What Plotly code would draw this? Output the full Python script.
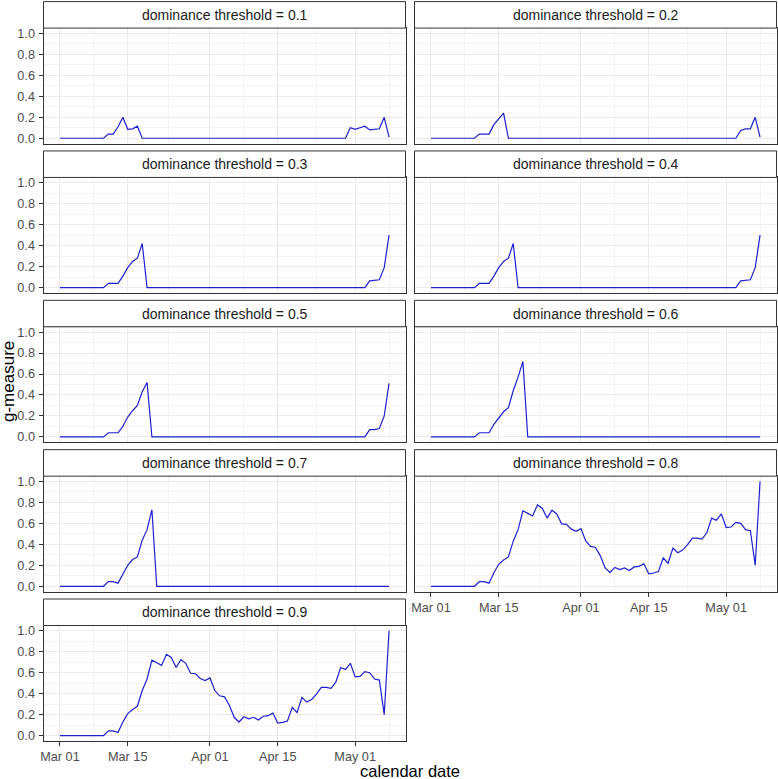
import plotly.graph_objects as go
import pandas as pd

# ---------------- data ----------------
dates = pd.date_range("2020-03-01", "2020-05-08", freq="D")

thresholds = ["0.1", "0.2", "0.3", "0.4", "0.5", "0.6", "0.7", "0.8", "0.9"]

g_01 = [0, 0, 0, 0, 0, 0, 0, 0, 0, 0,
        0.04, 0.04, 0.11, 0.20, 0.085, 0.09, 0.115, 0, 0, 0,
        0, 0, 0, 0, 0, 0, 0, 0, 0, 0,
        0, 0, 0, 0, 0, 0, 0, 0, 0, 0,
        0, 0, 0, 0, 0, 0, 0, 0, 0, 0,
        0, 0, 0, 0, 0, 0, 0, 0, 0, 0,
        0.10, 0.085, 0.10, 0.115, 0.08, 0.085, 0.09, 0.20, 0.01]

g_02 = [0, 0, 0, 0, 0, 0, 0, 0, 0, 0,
        0.04, 0.04, 0.04, 0.13, 0.185, 0.24, 0, 0, 0, 0,
        0, 0, 0, 0, 0, 0, 0, 0, 0, 0,
        0, 0, 0, 0, 0, 0, 0, 0, 0, 0,
        0, 0, 0, 0, 0, 0, 0, 0, 0, 0,
        0, 0, 0, 0, 0, 0, 0, 0, 0, 0,
        0, 0, 0, 0, 0.075, 0.09, 0.09, 0.20, 0.01]

g_03 = [0, 0, 0, 0, 0, 0, 0, 0, 0, 0,
        0.04, 0.04, 0.04, 0.11, 0.19, 0.25, 0.28, 0.42, 0, 0,
        0, 0, 0, 0, 0, 0, 0, 0, 0, 0,
        0, 0, 0, 0, 0, 0, 0, 0, 0, 0,
        0, 0, 0, 0, 0, 0, 0, 0, 0, 0,
        0, 0, 0, 0, 0, 0, 0, 0, 0, 0,
        0, 0, 0, 0, 0.065, 0.07, 0.075, 0.19, 0.50]

g_04 = [0, 0, 0, 0, 0, 0, 0, 0, 0, 0,
        0.04, 0.04, 0.04, 0.11, 0.19, 0.25, 0.28, 0.42, 0, 0,
        0, 0, 0, 0, 0, 0, 0, 0, 0, 0,
        0, 0, 0, 0, 0, 0, 0, 0, 0, 0,
        0, 0, 0, 0, 0, 0, 0, 0, 0, 0,
        0, 0, 0, 0, 0, 0, 0, 0, 0, 0,
        0, 0, 0, 0, 0.065, 0.07, 0.075, 0.19, 0.50]

g_05 = [0, 0, 0, 0, 0, 0, 0, 0, 0, 0,
        0.04, 0.04, 0.04, 0.10, 0.19, 0.25, 0.30, 0.43, 0.52, 0,
        0, 0, 0, 0, 0, 0, 0, 0, 0, 0,
        0, 0, 0, 0, 0, 0, 0, 0, 0, 0,
        0, 0, 0, 0, 0, 0, 0, 0, 0, 0,
        0, 0, 0, 0, 0, 0, 0, 0, 0, 0,
        0, 0, 0, 0, 0.07, 0.07, 0.08, 0.20, 0.51]

g_06 = [0, 0, 0, 0, 0, 0, 0, 0, 0, 0,
        0.04, 0.04, 0.04, 0.12, 0.18, 0.24, 0.28, 0.44, 0.57, 0.72,
        0, 0, 0, 0, 0, 0, 0, 0, 0, 0,
        0, 0, 0, 0, 0, 0, 0, 0, 0, 0,
        0, 0, 0, 0, 0, 0, 0, 0, 0, 0,
        0, 0, 0, 0, 0, 0, 0, 0, 0, 0,
        0, 0, 0, 0, 0, 0, 0, 0, 0]

g_07 = [0, 0, 0, 0, 0, 0, 0, 0, 0, 0,
        0.045, 0.045, 0.03, 0.12, 0.20, 0.255, 0.28, 0.44, 0.54, 0.73,
        0, 0, 0, 0, 0, 0, 0, 0, 0, 0,
        0, 0, 0, 0, 0, 0, 0, 0, 0, 0,
        0, 0, 0, 0, 0, 0, 0, 0, 0, 0,
        0, 0, 0, 0, 0, 0, 0, 0, 0, 0,
        0, 0, 0, 0, 0, 0, 0, 0, 0]

g_08 = [0, 0, 0, 0, 0, 0, 0, 0, 0, 0,
        0.045, 0.045, 0.03, 0.13, 0.21, 0.25, 0.28, 0.43, 0.54, 0.72,
        0.695, 0.67, 0.775, 0.745, 0.65, 0.725, 0.69, 0.595, 0.59, 0.545,
        0.525, 0.55, 0.43, 0.38, 0.37, 0.29, 0.175, 0.13, 0.18, 0.16,
        0.175, 0.15, 0.185, 0.19, 0.215, 0.12, 0.127, 0.14, 0.27, 0.22,
        0.365, 0.32, 0.345, 0.395, 0.46, 0.46, 0.45, 0.51, 0.65, 0.63,
        0.69, 0.56, 0.565, 0.61, 0.60, 0.54, 0.53, 0.20, 1.0]

g_09 = [0, 0, 0, 0, 0, 0, 0, 0, 0, 0,
        0.045, 0.045, 0.03, 0.13, 0.21, 0.25, 0.28, 0.43, 0.54, 0.72,
        0.695, 0.67, 0.775, 0.745, 0.65, 0.725, 0.69, 0.595, 0.59, 0.545,
        0.525, 0.55, 0.43, 0.38, 0.37, 0.29, 0.175, 0.13, 0.18, 0.16,
        0.175, 0.15, 0.185, 0.19, 0.215, 0.12, 0.127, 0.14, 0.27, 0.22,
        0.365, 0.32, 0.345, 0.395, 0.46, 0.46, 0.45, 0.51, 0.65, 0.63,
        0.69, 0.56, 0.565, 0.61, 0.60, 0.54, 0.53, 0.20, 1.0]

series = [g_01, g_02, g_03, g_04, g_05, g_06, g_07, g_08, g_09]

x_tick_vals = ["2020-03-01", "2020-03-15", "2020-04-01", "2020-04-15", "2020-05-01"]
x_tick_text = ["Mar 01", "Mar 15", "Apr 01", "Apr 15", "May 01"]
x_minor_vals = ["2020-03-08", "2020-03-23 12:00", "2020-04-08", "2020-04-23", "2020-05-08"]
y_tick_vals = [0, 0.2, 0.4, 0.6, 0.8, 1.0]
y_tick_text = ["0.0", "0.2", "0.4", "0.6", "0.8", "1.0"]
y_minor_vals = [0.1, 0.3, 0.5, 0.7, 0.9]

# ---------------- layout geometry (pixels) ----------------
W, H = 778, 779
col_x = [(43.5, 405.5), (414.5, 776.5)]
row_top0 = 28.1
row_pitch = 149.35
panel_h = 115.4
strip_h = 26.5

FONT = "Liberation Sans, Arial, sans-serif"
LINE_COLOR = "#1e1ed2"
x_range = ["2020-02-26 14:24", "2020-05-11 09:36"]
y_range = [-0.05, 1.05]

fig = go.Figure()
shapes = []
annotations = []
layout_axes = {}

for i, (thr, vals) in enumerate(zip(thresholds, series)):
    r, c = divmod(i, 2)
    n = i + 1
    xn = "x" if n == 1 else f"x{n}"
    yn = "y" if n == 1 else f"y{n}"
    fig.add_trace(go.Scatter(
        x=dates, y=vals, mode="lines",
        line=dict(color=LINE_COLOR, width=1.2),
        xaxis=xn, yaxis=yn, hoverinfo="skip", showlegend=False))

    x0, x1 = col_x[c]
    top = row_top0 + r * row_pitch
    bot = top + panel_h
    dom_x = [x0 / W, x1 / W]
    dom_y = [1 - bot / H, 1 - top / H]
    show_x = i in (7, 8)
    show_y = c == 0

    layout_axes["xaxis" if n == 1 else f"xaxis{n}"] = dict(
        domain=dom_x, anchor=yn, type="date", range=x_range,
        tickmode="array", tickvals=x_tick_vals, ticktext=x_tick_text,
        showticklabels=show_x, ticks="outside" if show_x else "",
        ticklen=4, tickwidth=1, tickcolor="#333333",
        tickfont=dict(family=FONT, size=12.7, color="#4D4D4D"),
        showgrid=True, gridcolor="#EBEBEB", gridwidth=1,
        minor=dict(tickmode="array", tickvals=x_minor_vals, showgrid=True,
                   gridcolor="#F4F4F4", gridwidth=0.7, ticks=""),
        showline=True, mirror=True, linecolor="#333333", linewidth=1,
        zeroline=False, automargin=False, fixedrange=True)

    layout_axes["yaxis" if n == 1 else f"yaxis{n}"] = dict(
        domain=dom_y, anchor=xn, range=y_range,
        tickmode="array", tickvals=y_tick_vals, ticktext=y_tick_text,
        showticklabels=show_y, ticks="outside" if show_y else "",
        ticklen=4, tickwidth=1, tickcolor="#333333",
        tickfont=dict(family=FONT, size=12.7, color="#4D4D4D"),
        ticklabelstandoff=1,
        showgrid=True, gridcolor="#EBEBEB", gridwidth=1,
        minor=dict(tickmode="array", tickvals=y_minor_vals, showgrid=True,
                   gridcolor="#F4F4F4", gridwidth=0.7, ticks=""),
        showline=True, mirror=True, linecolor="#333333", linewidth=1,
        zeroline=False, automargin=False, fixedrange=True)

    # facet strip
    s_top = top - strip_h
    shapes.append(dict(type="rect", xref="paper", yref="paper",
                       x0=x0 / W, x1=x1 / W, y0=1 - top / H, y1=1 - s_top / H,
                       fillcolor="white", line=dict(color="#333333", width=1)))
    annotations.append(dict(text=f"dominance threshold = {thr}", xref="paper", yref="paper",
                            x=(x0 + x1) / 2 / W, y=1 - (top - strip_h / 2) / H,
                            xanchor="center", yanchor="middle", showarrow=False,
                            font=dict(family=FONT, size=14, color="#1A1A1A")))

annotations.append(dict(text="calendar date", xref="paper", yref="paper",
                        x=410 / W, y=1 - 770.5 / H, xanchor="center", yanchor="middle",
                        showarrow=False, font=dict(family=FONT, size=16.5, color="black")))
annotations.append(dict(text="g-measure", xref="paper", yref="paper",
                        x=9 / W, y=1 - 382 / H, xanchor="center", yanchor="middle",
                        textangle=-90, showarrow=False,
                        font=dict(family=FONT, size=17, color="black")))

fig.update_layout(
    width=W, height=H,
    margin=dict(l=0, r=0, t=0, b=0),
    paper_bgcolor="white", plot_bgcolor="white",
    shapes=shapes, annotations=annotations,
    showlegend=False,
    **layout_axes)

fig.write_html("out.html",
               config={"displayModeBar": False},
               post_script="document.body.style.margin='0px';document.body.style.padding='0px';")
